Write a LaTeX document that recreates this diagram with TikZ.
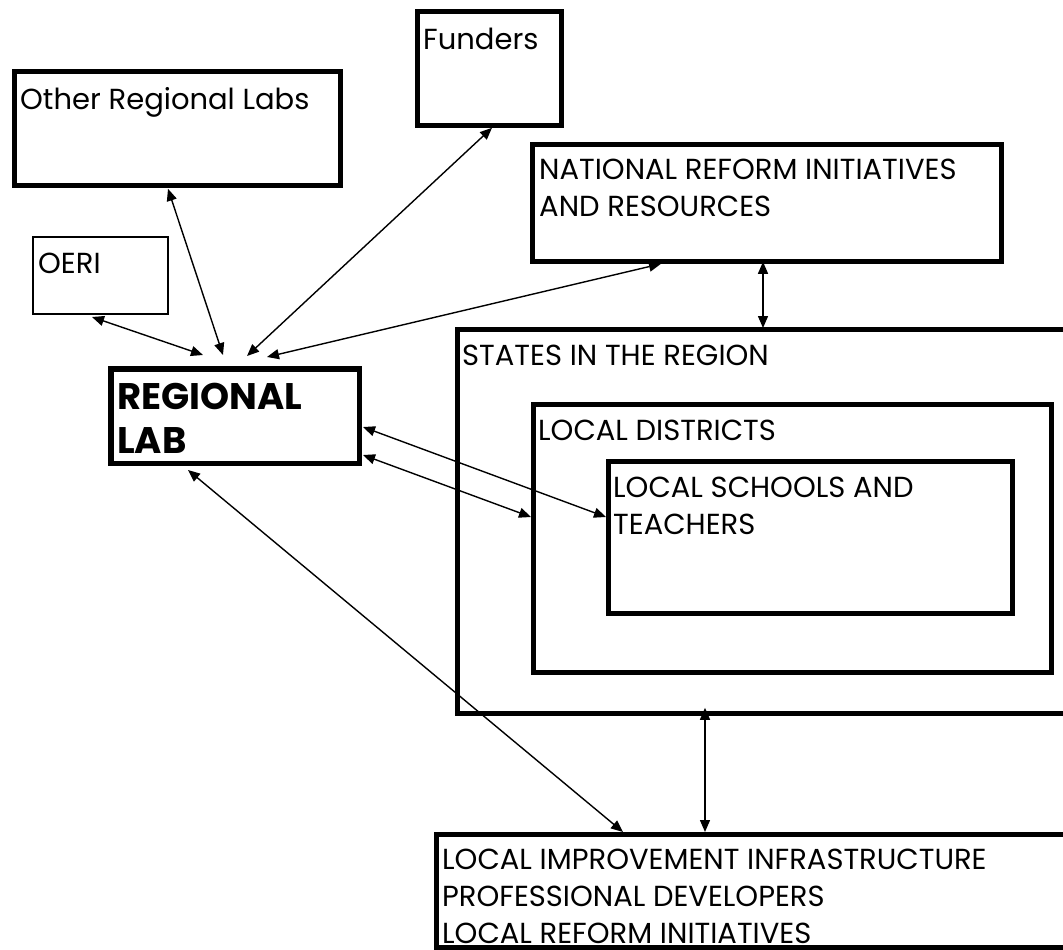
\documentclass[tikz,border=0pt]{standalone}
\usepackage{fontspec}
\setmainfont{Poppins}
\usetikzlibrary{positioning,arrows.meta,calc}

\begin{document}
\begin{tikzpicture}[
  x=1pt, y=-1pt,
  >={Triangle[length=12pt,width=10pt]},
  frame/.style={draw, line width=4.8pt, anchor=north west, inner sep=0pt},
  thinframe/.style={frame, line width=1.6pt},
  leadframe/.style={frame, line width=5.5pt},
  txt/.style={anchor=north west, inner sep=0pt, align=left, font=\fontsize{29}{37}\selectfont},
  leadtxt/.style={txt, font=\fontsize{37}{44}\selectfont\bfseries},
  link/.style={<->, line width=1.4pt},
]
\clip (0,0) rectangle (1063,950);

% ===== boxes (outer top-left corner, path size) =====
\node[frame, minimum width=326pt, minimum height=114pt] (labs) at (12,69) {};
\node[frame, minimum width=144pt, minimum height=114pt] (funders) at (415,9) {};
\node[frame, minimum width=469pt, minimum height=117pt] (national) at (530,142) {};
\node[thinframe, minimum width=135.4pt, minimum height=77.4pt] (oeri) at (32,236) {};
\node[leadframe, minimum width=248.5pt, minimum height=94.5pt] (lab) at (108,366) {};
\node[frame, minimum width=740pt, minimum height=384pt] (states) at (455,327) {};
\node[frame, minimum width=518pt, minimum height=268pt] (districts) at (531,402) {};
\node[frame, minimum width=404pt, minimum height=152pt] (schools) at (606,459) {};
\node[frame, minimum width=740pt, minimum height=113pt] (infra) at (434,832) {};

% ===== texts, top-left inside each box =====
\node[txt] (labsT) at ([shift={(8,18)}]labs.north west) {Other Regional Labs};
\node[txt] (fundersT) at ([shift={(8,19)}]funders.north west) {Funders};
\node[txt] (nationalT) at ([shift={(9,17)}]national.north west)
  {NATIONAL REFORM INITIATIVES\\AND RESOURCES};
\node[txt] (oeriT) at ([shift={(6,17)}]oeri.north west) {OERI};
\node[leadtxt] (labT) at ([shift={(9,17)}]lab.north west) {REGIONAL\\LAB};
\node[txt] (statesT) at ([shift={(7,18)}]states.north west) {STATES IN THE REGION};
\node[txt] (districtsT) at ([shift={(7,18)}]districts.north west) {LOCAL DISTRICTS};
\node[txt] (schoolsT) at ([shift={(7,18)}]schools.north west)
  {LOCAL SCHOOLS AND\\TEACHERS};
\node[txt] (infraT) at ([shift={(8,17)}]infra.north west)
  {LOCAL IMPROVEMENT INFRASTRUCTURE\\PROFESSIONAL DEVELOPERS\\LOCAL REFORM INITIATIVES};

% ===== links into the regional lab =====
\draw[link] ([shift={(60,2)}]oeri.south west) -- ([shift={(95,-11)}]lab.north west);
\draw[link] ([shift={(156,1)}]labs.south west) -- ([shift={(115,-11)}]lab.north west);
\draw[link] ([shift={(77,0)}]funders.south west) -- ([shift={(139,-10)}]lab.north west);
\draw[link] ([shift={(131,0)}]national.south west) -- ([shift={(159,-9)}]lab.north west);
\draw[link] ([shift={(1,61)}]lab.north east) -- ([shift={(0,58)}]schools.north west);
\draw[link] ([shift={(1,89)}]lab.north east) -- ([shift={(0,115)}]districts.north west);
\draw[link] ([shift={(80,4)}]lab.south west) -- ([shift={(189,0)}]infra.north west);

% ===== vertical links =====
\draw[link] ([shift={(233,-2)}]national.south west) -- ([shift={(308,1)}]states.north west);
\draw[link] ([shift={(250,-8)}]states.south west) -- ([shift={(271,0)}]infra.north west);

\end{tikzpicture}
\end{document}
